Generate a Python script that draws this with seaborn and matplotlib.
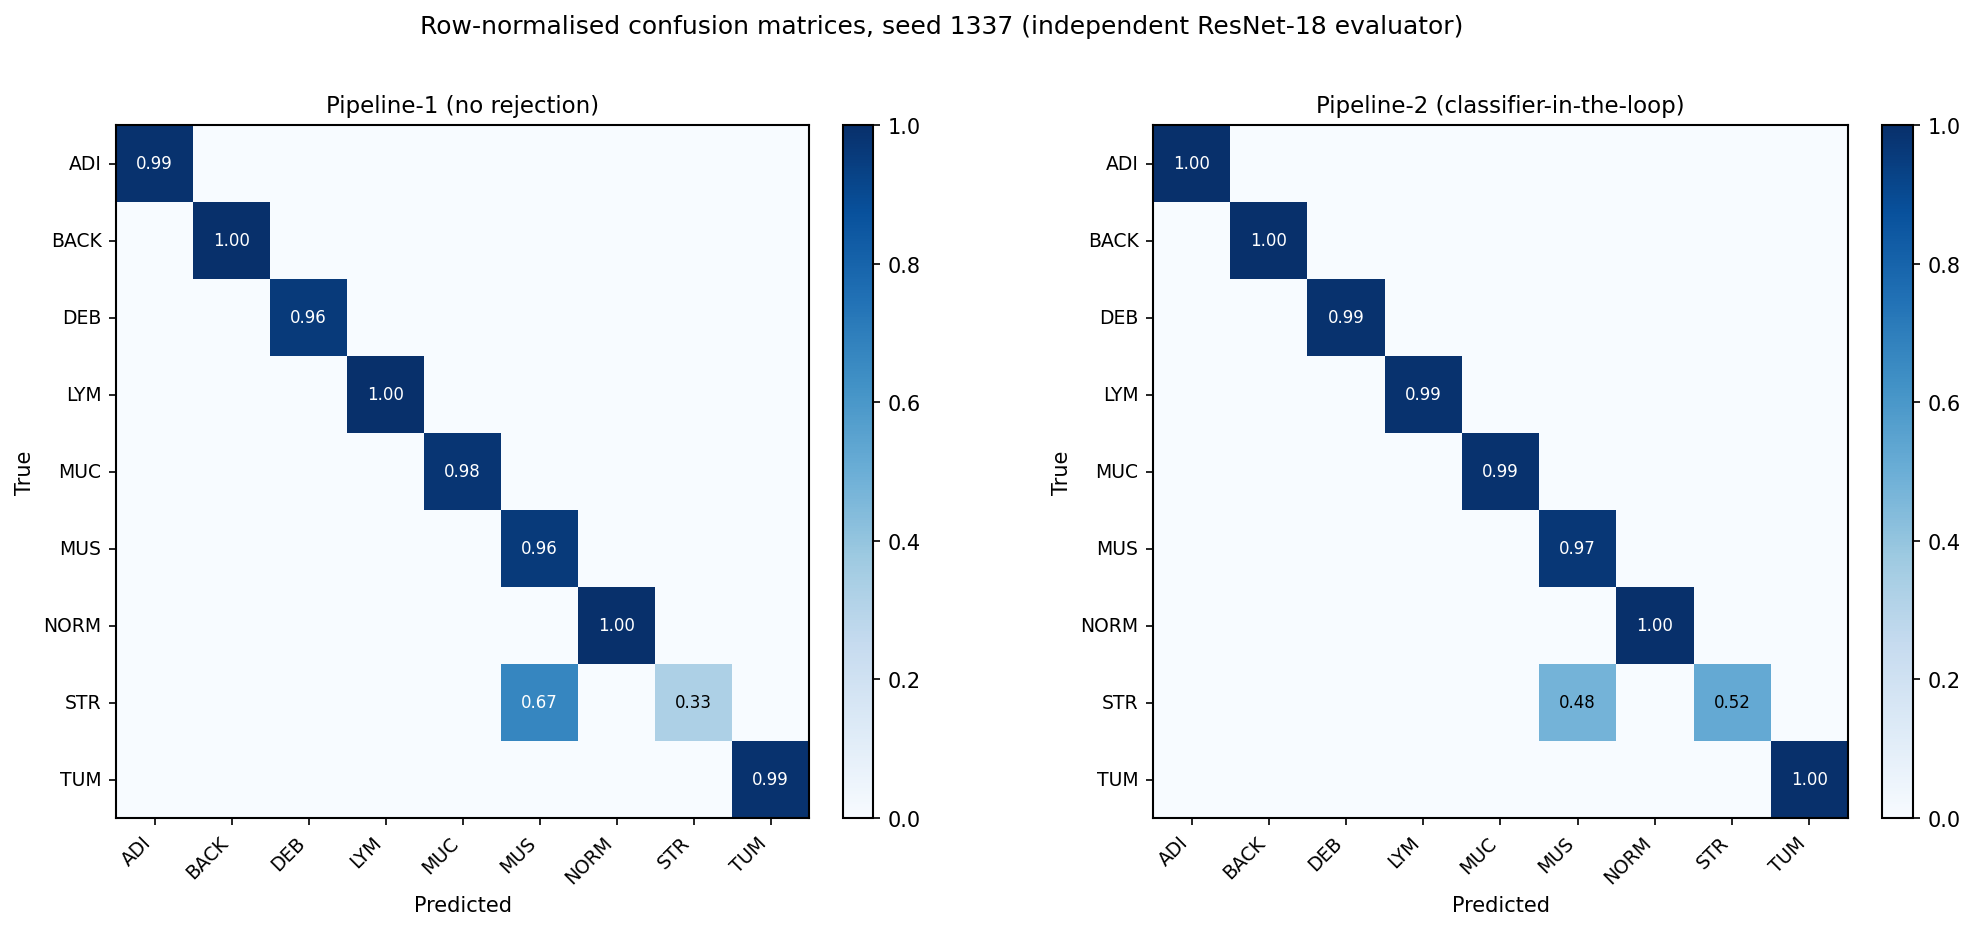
import numpy as np
import pandas as pd
import matplotlib
matplotlib.use("Agg")
import matplotlib.pyplot as plt
import seaborn as sns

# class names (rows = true, cols = predicted)
classes = ["ADI", "BACK", "DEB", "LYM", "MUC", "MUS", "NORM", "STR", "TUM"]

# row-normalised confusion matrices
p1_rows = [
    [0.99, 0, 0, 0, 0, 0, 0, 0, 0],
    [0, 1.00, 0, 0, 0, 0, 0, 0, 0],
    [0, 0, 0.96, 0, 0, 0, 0, 0, 0],
    [0, 0, 0, 1.00, 0, 0, 0, 0, 0],
    [0, 0, 0, 0, 0.98, 0, 0, 0, 0],
    [0, 0, 0, 0, 0, 0.96, 0, 0, 0],
    [0, 0, 0, 0, 0, 0, 1.00, 0, 0],
    [0, 0, 0, 0, 0, 0.67, 0, 0.33, 0],
    [0, 0, 0, 0, 0, 0, 0, 0, 0.99],
]
p2_rows = [
    [1.00, 0, 0, 0, 0, 0, 0, 0, 0],
    [0, 1.00, 0, 0, 0, 0, 0, 0, 0],
    [0, 0, 0.99, 0, 0, 0, 0, 0, 0],
    [0, 0, 0, 0.99, 0, 0, 0, 0, 0],
    [0, 0, 0, 0, 0.99, 0, 0, 0, 0],
    [0, 0, 0, 0, 0, 0.97, 0, 0, 0],
    [0, 0, 0, 0, 0, 0, 1.00, 0, 0],
    [0, 0, 0, 0, 0, 0.48, 0, 0.52, 0],
    [0, 0, 0, 0, 0, 0, 0, 0, 1.00],
]
titles = ["Pipeline-1 (no rejection)", "Pipeline-2 (classifier-in-the-loop)"]

W, H = 1979, 932
fig = plt.figure(figsize=(W / 150, H / 150), dpi=150)

# axes boxes in pixels: (left, top, width, height)
boxes = [(116, 126, 693, 693), (1153, 126, 695, 693)]
cboxes = [(843, 126, 30, 693), (1882, 126, 31, 693)]


def frac(b):
    x, y, w, h = b
    return [x / W, 1 - (y + h) / H, w / W, h / H]


for rows, title, box, cbox in zip([p1_rows, p2_rows], titles, boxes, cboxes):
    cm = pd.DataFrame(rows, index=classes, columns=classes)
    ax = fig.add_axes(frac(box))
    cax = fig.add_axes(frac(cbox))
    labels = np.where(cm.values > 0.05, cm.map(lambda v: f"{v:.2f}").values, "")
    sns.heatmap(cm, ax=ax, cbar_ax=cax, cmap="Blues", vmin=0, vmax=1,
                annot=labels, fmt="", annot_kws={"size": 8}, square=False)
    for t, v in zip(ax.texts, cm.values.flatten()):
        t.set_color("white" if v > 0.6 else "black")
    for s in ax.spines.values():
        s.set_visible(True)
        s.set_linewidth(1.0)
    ax.set_title(title, fontsize=11)
    ax.set_xlabel("Predicted", fontsize=10)
    ax.set_ylabel("True", fontsize=10)
    ax.set_xticklabels(classes, rotation=45, ha="right", fontsize=9)
    ax.set_yticklabels(classes, rotation=0, fontsize=9)
    ax.tick_params(length=3.5, width=0.8)
    cb = ax.collections[0].colorbar
    cb.outline.set_visible(True)
    cb.outline.set_linewidth(1.0)
    cb.set_ticks([0, 0.2, 0.4, 0.6, 0.8, 1.0])
    cb.ax.tick_params(labelsize=10, length=3.5, width=0.8)

fig.suptitle("Row-normalised confusion matrices, seed 1337 (independent ResNet-18 evaluator)",
             fontsize=12, x=0.476, y=0.984)
fig.savefig("out.png", dpi=150)
